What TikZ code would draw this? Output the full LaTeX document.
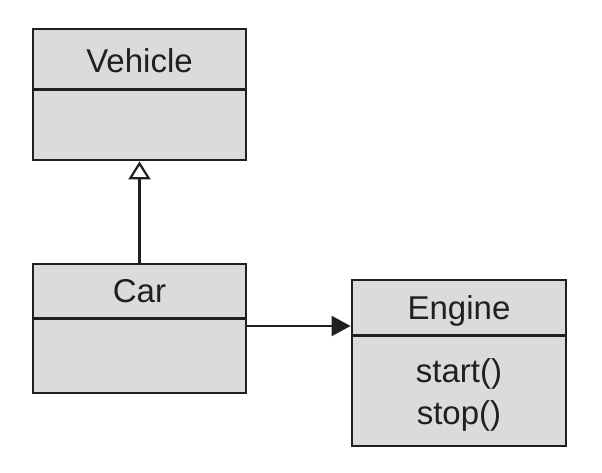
\documentclass[tikz,border=0pt]{standalone}
\usepackage{fontspec}
\setmainfont{Liberation Sans}
\usetikzlibrary{arrows.meta}
\definecolor{umlgray}{RGB}{218,219,219}
\definecolor{umlink}{RGB}{35,31,32}
\begin{document}
\begin{tikzpicture}[x=0.5pt,y=-0.5pt] % координаты в пикселях рисунка
\tikzstyle{umlclass} = [draw=umlink, fill=umlgray, line width=1.4pt, inner sep=0pt] % class box style
\tikzstyle{umltext} = [text=umlink, font=\fontsize{16.5}{21}\selectfont, align=center] % class text style
\tikzstyle{inherit} = [draw=umlink, line width=1.1pt, -{Triangle[open, length=9pt, width=11pt, line width=1.1pt]}] % наследование
\tikzstyle{assoc} = [draw=umlink, line width=1.1pt, -{Triangle[length=9.5pt, width=10pt]}] % ассоциация
\useasboundingbox (0,0) rectangle (602,473);
% классы
\node[umlclass, minimum width=106.5pt, minimum height=65.5pt] (vehicle) at (139.5,94.5) {};
\node[umlclass, minimum width=106.5pt, minimum height=64.5pt] (car) at (139.5,328.5) {};
\node[umlclass, minimum width=107pt, minimum height=83pt] (engine) at (459,363) {};
% разделители
\draw[umlink, line width=1.4pt] ([yshift=-31pt]vehicle.north west) -- ([yshift=-31pt]vehicle.north east);
\draw[umlink, line width=1.4pt] ([yshift=-28pt]car.north west) -- ([yshift=-28pt]car.north east);
\draw[umlink, line width=1.4pt] ([yshift=-28.5pt]engine.north west) -- ([yshift=-28.5pt]engine.north east);
% надписи
\node[umltext] (vehiclename) at ([yshift=-16.5pt]vehicle.north) {Vehicle};
\node[umltext] (carname) at ([yshift=-14.5pt]car.north) {Car};
\node[umltext] (enginename) at ([yshift=-16pt]engine.north) {Engine};
\node[umltext] (enginemethods) at ([yshift=26pt]engine.south) {start()\\stop()};
% связи
\coordinate (link) at (300,326);
\draw[inherit] (car.north) -- (vehicle.south);
\draw[assoc] (car.east |- link) -- (engine.west |- link);
\end{tikzpicture}
\end{document}
